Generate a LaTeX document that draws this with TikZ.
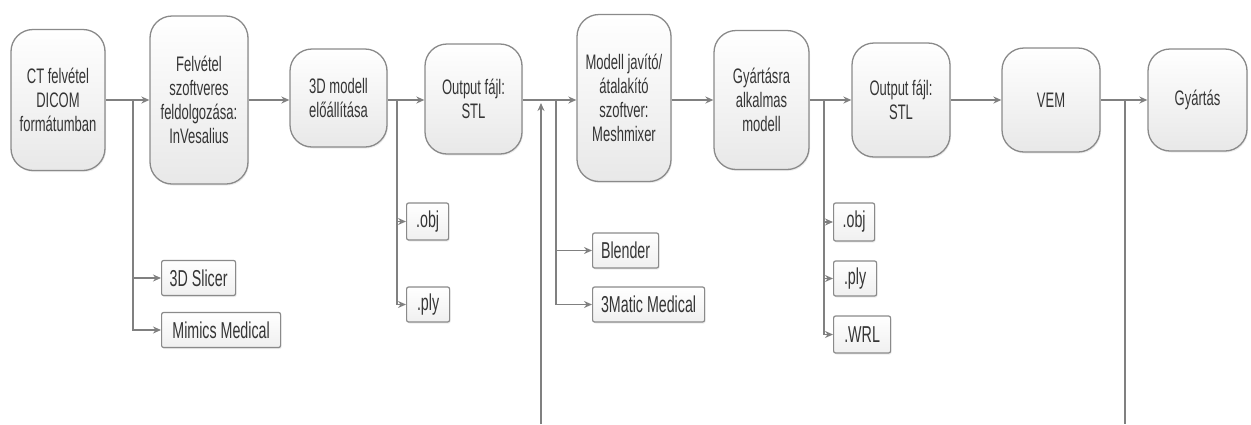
\documentclass[tikz,border=0pt]{standalone}
\usepackage{fontspec}
\setmainfont{Liberation Sans}[FakeStretch=0.62]
\usetikzlibrary{arrows.meta,shadows}
\definecolor{linegray}{HTML}{808080}
\definecolor{boxgray}{HTML}{8A8A8A}
\definecolor{textgray}{HTML}{353535}
\begin{document}
\begin{tikzpicture}[x=1pt,y=-1pt,
  mainbox/.style={draw=boxgray, line width=1.3pt, rounded corners=22pt,
    top color=white, bottom color=gray!18, text=textgray, align=center,
    inner sep=0pt, font=\fontsize{21}{24}\selectfont,
    drop shadow={shadow xshift=1pt, shadow yshift=-1.5pt, fill=gray!30}},
  subbox/.style={draw=boxgray, line width=1.2pt, rounded corners=2pt,
    top color=white, bottom color=gray!12, text=textgray, inner sep=0pt,
    anchor=west, minimum height=35pt, font=\fontsize{23}{23}\selectfont,
    drop shadow={shadow xshift=1pt, shadow yshift=-1.5pt, fill=gray!30}},
  wire/.style={draw=linegray, line width=1.6pt},
  arr/.style={wire, -{Stealth[length=8pt,width=7pt]}}]
\useasboundingbox (0,0) rectangle (1251,424);
% main row
\node[mainbox, minimum width=94pt, minimum height=141pt] (ct) at (58,100) {CT felvétel\\DICOM\\formátumban};
\node[mainbox, minimum width=98pt, minimum height=168pt] (felv) at (199,100) {Felvétel\\szoftveres\\feldolgozása:\\InVesalius};
\node[mainbox, minimum width=97pt, minimum height=98pt] (model) at (338.5,98) {3D modell\\előállítása};
\node[mainbox, minimum width=97pt, minimum height=110pt] (outstl) at (473.5,99) {Output fájl:\\STL};
\node[mainbox, minimum width=94pt, minimum height=167pt] (mesh) at (624,98) {Modell javító/\\átalakító\\szoftver:\\Meshmixer};
\node[mainbox, minimum width=95pt, minimum height=139pt] (gyalk) at (761.5,100) {Gyártásra\\alkalmas\\modell};
\node[mainbox, minimum width=98pt, minimum height=114pt] (outstlb) at (901,100) {Output fájl:\\STL};
\node[mainbox, minimum width=98pt, minimum height=104pt] (vem) at (1051,100) {VEM};
\node[mainbox, minimum width=99pt, minimum height=102pt] (gyart) at (1197.5,100) {Gyártás};
\draw[arr] (ct) -- (felv);
\draw[arr] (felv) -- (model.west |- felv);
\draw[arr] (model.east |- felv) -- (outstl.west |- felv);
\draw[arr] (outstl.east |- felv) -- (mesh.west |- felv);
\draw[arr] (mesh.east |- felv) -- (gyalk);
\draw[arr] (gyalk) -- (outstlb);
\draw[arr] (outstlb) -- (vem);
\draw[arr] (vem) -- (gyart);
% branch points and loop
\coordinate (b1) at (133,100);
\coordinate (b2) at (397,100);
\coordinate (b3) at (556,100);
\coordinate (b4) at (824,100);
\coordinate (loopin) at (541,103);
\coordinate (loopl) at (541,424);
\coordinate (loopout) at (1125,100);
\coordinate (loopr) at (1125,424);
% side options
\node[subbox, minimum width=74pt] (slicer) at (161,278) {3D Slicer};
\node[subbox, minimum width=119pt] (mimics) at (161,330) {Mimics Medical};
\node[subbox, minimum width=42pt, minimum height=37pt] (obja) at (406,221.5) {.obj};
\node[subbox, minimum width=43pt] (plya) at (406,304.5) {.ply};
\node[subbox, minimum width=66pt] (blender) at (592,250.5) {Blender};
\node[subbox, minimum width=112pt] (matic) at (592,304.5) {3Matic Medical};
\node[subbox, minimum width=41pt, minimum height=38pt] (objb) at (833,222) {.obj};
\node[subbox, minimum width=43pt] (plyb) at (833,278.5) {.ply};
\node[subbox, minimum width=57pt, minimum height=37pt] (wrl) at (833,334.5) {.WRL};
\draw[arr] (b1) |- (slicer);
\draw[arr] (b1) |- (mimics);
\draw[arr] (b2) |- (obja);
\draw[arr] (b2) |- (plya);
\draw[arr] (b3) |- (blender);
\draw[arr] (b3) |- (matic);
\draw[arr] (b4) |- (objb);
\draw[arr] (b4) |- (plyb);
\draw[arr] (b4) |- (wrl);
\draw[arr] (loopl) -- (loopin);
\draw[wire] (loopout) -- (loopr);
\end{tikzpicture}
\end{document}
